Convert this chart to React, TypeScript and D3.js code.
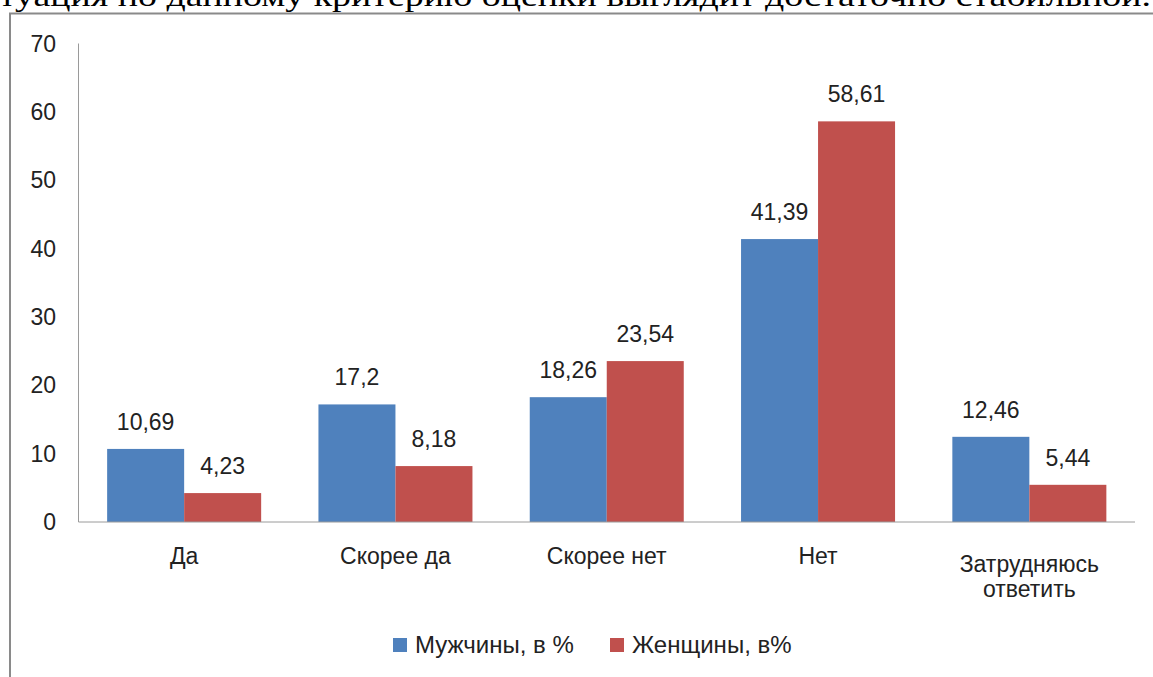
import React from 'react';
import * as d3 from 'd3';

const categories = ['Да', 'Скорее да', 'Скорее нет', 'Нет', 'Затрудняюсь ответить'];
const seriesNames = ['Мужчины, в %', 'Женщины, в%'];
const men = [10.69, 17.2, 18.26, 41.39, 12.46];
const women = [4.23, 8.18, 23.54, 58.61, 5.44];
const colors = ['#4F81BD', '#C0504D'];
const headerText = 'туация по данному критерию оценки выглядит достаточно стабильной.';

const W = 1153;
const H = 677;
const font = '"Liberation Sans", Arial, sans-serif';
const fs = 23;

const xScale = d3.scaleBand<string>().domain(categories).range([78.5, 1135]).padding(0);
const xInner = d3.scaleBand<string>()
  .domain(seriesNames)
  .range([0, xScale.bandwidth()])
  .paddingInner(0)
  .paddingOuter(0.372);
const yScale = d3.scaleLinear().domain([0, 70]).range([522, 43.5]);

const fmt = (v: number) => String(v).replace('.', ',');

// long category names wrap onto two lines like in the original
const wrap = (s: string) => (s.length > 12 ? s.split(' ') : [s]);

export default function App() {
  const values = [men, women];
  const [y0] = yScale.range();
  return (
    <svg width={W} height={H} style={{ position: 'absolute', left: 0, top: 0, background: '#fff' }}>
      <text x={-1} y={6} fontFamily='"Liberation Serif", "Times New Roman", serif' fontSize={29}
        textLength={1152} lengthAdjust="spacingAndGlyphs" fill="#000">{headerText}</text>
      <path d={`M10,${H} V13.5 H${W}`} fill="none" stroke="#8a8a8a" strokeWidth={2} />

      {/* y axis */}
      <line x1={78.5} x2={78.5} y1={yScale(70)} y2={y0} stroke="#9a9a9a" />
      {yScale.ticks(7).map((t) => (
        <text key={t} x={56} y={yScale(t)} dy="0.35em" textAnchor="end"
          fontFamily={font} fontSize={fs} fill="#222">{t}</text>
      ))}

      {/* bars */}
      {categories.map((c, i) => (
        <g key={c} transform={`translate(${xScale(c)},0)`}>
          {seriesNames.map((s, j) => {
            const v = values[j][i];
            const bx = xInner(s)!;
            return (
              <g key={s}>
                <rect x={bx} y={yScale(v)} width={xInner.bandwidth()} height={y0 - yScale(v)} fill={colors[j]} />
                <text x={bx + xInner.bandwidth() / 2} y={yScale(v) - 19} textAnchor="middle"
                  fontFamily={font} fontSize={fs} fill="#222">{fmt(v)}</text>
              </g>
            );
          })}
        </g>
      ))}

      {/* x axis */}
      <line x1={78.5} x2={1135} y1={y0} y2={y0} stroke="#9a9a9a" />
      {categories.map((c) => {
        const lines = wrap(c);
        const cx = xScale(c)! + xScale.bandwidth() / 2;
        const base = lines.length > 1 ? 572 : 564;
        return lines.map((ln, k) => (
          <text key={c + k} x={cx} y={base + k * 25} textAnchor="middle"
            fontFamily={font} fontSize={fs} fill="#222">{ln}</text>
        ));
      })}

      {/* legend */}
      {seriesNames.map((s, j) => {
        const lx = [393, 610][j];
        return (
          <g key={s}>
            <rect x={lx} y={638} width={14} height={14} fill={colors[j]} />
            <text x={lx + 22} y={653} fontFamily={font} fontSize={fs + 1} fill="#222">{s}</text>
          </g>
        );
      })}
    </svg>
  );
}
